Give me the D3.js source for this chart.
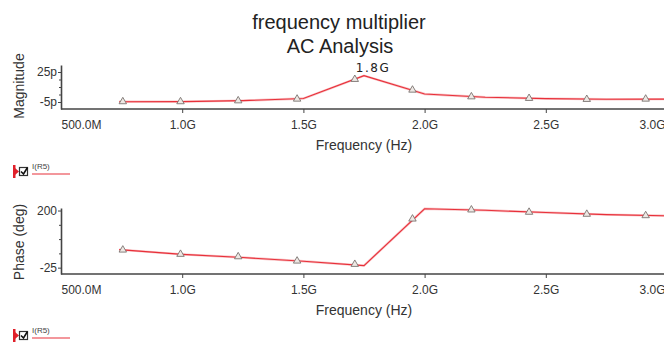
<!DOCTYPE html>
<html>
<head>
<meta charset="utf-8">
<script src="https://cdn.jsdelivr.net/npm/d3@7"></script>
<style>
  body { margin: 0; background: #fff; }
  svg { display: block; font-family: "Liberation Sans", Arial, sans-serif; }
  .axis path, .axis line { stroke: #444; }
  .axis text { fill: #333; font-size: 12px; font-family: "Liberation Sans", Arial, sans-serif; }
</style>
</head>
<body>
<svg id="chart" width="664" height="345"></svg>
<script>
// x ticks (GHz) and their labels
const freqTicks = [0.5, 1.0, 1.5, 2.0, 2.5, 3.0];
const freqLabels = ["500.0M", "1.0G", "1.5G", "2.0G", "2.5G", "3.0G"];

// magnitude curve (GHz, pA)
const magFreq = [0.74, 1.0, 1.25, 1.5, 1.75, 2.0, 2.25, 2.5, 2.75, 3.0, 3.1];
const magVal = [-4.7, -4.6, -3.6, -1.5, 21.3, 3.0, -0.2, -1.6, -2.3, -2.1, -2.2];
const magMarkFreq = [0.755, 0.993, 1.231, 1.474, 1.712, 1.95, 2.193, 2.431, 2.669, 2.912];
const magMarkVal = [-4.6, -4.6, -3.7, -2.0, 17.7, 7.0, 0.3, -1.3, -2.3, -2.0];
const magTicks = [25, -5];
const magTickLabels = ["25p", "-5p"];
const peakFreq = 1.75, peakVal = 21.3, peakLabel = "1.8G";

// phase curve (GHz, deg)
const phFreq = [0.74, 1.0, 1.25, 1.5, 1.75, 2.0, 2.25, 2.5, 2.75, 3.0, 3.1];
const phVal = [46, 27.5, 15, 0, -17, 207, 201, 192, 184, 179.5, 178];
const phMarkFreq = [0.755, 0.993, 1.231, 1.474, 1.712, 1.95, 2.193, 2.431, 2.669, 2.912];
const phMarkVal = [44.8, 28, 18.4, 1.4, -11.6, 167, 202.8, 193.7, 185.8, 180.3];
const phTicks = [200, -25];
const phTickLabels = ["200", "-25"];

const svg = d3.select("#chart");
const red = "#e8303a";

const x = d3.scaleLinear().domain([0.5, 3.0]).range([61, 667]);

function panel(opts) {
  const y = d3.scaleLinear().domain(opts.domain).range(opts.range);
  const g = svg.append("g");
  const bottom = opts.range[0];

  // x axis
  const xa = g.append("g").attr("class", "axis")
    .attr("transform", `translate(0,${bottom})`)
    .call(d3.axisBottom(x).tickValues(freqTicks)
      .tickFormat((d, i) => freqLabels[i]).tickSize(4).tickSizeOuter(0));
  xa.select(".domain").attr("stroke-width", 1.6).attr("d", `M61,0H664`);
  xa.selectAll("text").attr("dy", "0.9em").attr("y", 9);
  const n = freqTicks.length;
  xa.selectAll(".tick").filter((d, i) => i === 0).select("text").attr("text-anchor", "start");
  xa.selectAll(".tick").filter((d, i) => i === 0).select("line").remove();
  // last label pulled inside the plot edge, as the grapher does
  xa.selectAll(".tick").filter((d, i) => i === n - 1).select("text")
    .attr("text-anchor", "end").attr("x", -2);

  // y axis: major + minor ticks
  const [hi, lo] = opts.ticks;
  const minor = d3.range(1, 4).map(k => hi - (hi - lo) * k / 4);
  g.append("g").attr("class", "axis")
    .attr("transform", "translate(61,0)")
    .call(d3.axisLeft(y).tickValues(minor).tickFormat("").tickSize(2).tickSizeOuter(0))
    .select(".domain").remove();
  const ya = g.append("g").attr("class", "axis")
    .attr("transform", "translate(61,0)")
    .call(d3.axisLeft(y).tickValues(opts.ticks)
      .tickFormat((d, i) => opts.tickLabels[i]).tickSize(3).tickSizeOuter(0));
  ya.select(".domain").attr("stroke-width", 1.6);
  ya.selectAll("text").attr("x", -4);

  // axis titles
  g.append("text")
    .attr("transform", `translate(${opts.ylabX},${opts.ylabY}) rotate(-90)`)
    .attr("text-anchor", "middle").attr("font-size", 14).attr("fill", "#333")
    .text(opts.ylabel);
  g.append("text")
    .attr("x", 364).attr("y", bottom + opts.xlabDy)
    .attr("text-anchor", "middle").attr("font-size", 14).attr("fill", "#333")
    .text("Frequency (Hz)");

  // curve
  const pts = opts.freq.map((f, i) => [f, opts.val[i]]);
  const line = d3.line().x(d => x(d[0])).y(d => y(d[1]));
  g.append("path").datum(pts).attr("d", line)
    .attr("fill", "none").attr("stroke", "#f8c4c6").attr("stroke-width", 2.4);
  g.append("path").datum(pts).attr("d", line)
    .attr("fill", "none").attr("stroke", red).attr("stroke-width", 1.1);

  // markers
  g.selectAll(".mk").data(opts.markFreq).join("path")
    .attr("class", "mk")
    .attr("transform", (f, i) => `translate(${x(f)},${y(opts.markVal[i])})`)
    .attr("d", d3.symbol(d3.symbolTriangle, 24))
    .attr("fill", "#eee8e4").attr("stroke", "#7a7470").attr("stroke-width", 0.9);

  // legend
  const ly = opts.legendY;
  const lg = g.append("g").attr("transform", `translate(0,${ly})`);
  lg.append("rect").attr("x", 13).attr("y", -6).attr("width", 2.5).attr("height", 13).attr("fill", "#e0202a");
  lg.append("path").attr("d", "M15,-3L19,0.5L15,4Z").attr("fill", "#e0202a");
  lg.append("rect").attr("x", 19.5).attr("y", -3.5).attr("width", 8).attr("height", 8)
    .attr("fill", "#fff").attr("stroke", "#333").attr("stroke-width", 1.2);
  lg.append("path").attr("d", "M21,0.5L23.5,3L27.5,-3.5").attr("fill", "none")
    .attr("stroke", "#111").attr("stroke-width", 1.6);
  lg.append("text").attr("x", 32).attr("y", -2).attr("font-size", 8).attr("fill", "#444").text("I(R5)");
  lg.append("line").attr("x1", 32).attr("x2", 70).attr("y1", 3).attr("y2", 3)
    .attr("stroke", red).attr("stroke-width", 1.2);

  return { y, g };
}

const magPanel = panel({
  domain: [-12, 32], range: [109, 65],
  ticks: magTicks, tickLabels: magTickLabels,
  ylabel: "Magnitude", ylabX: 24, ylabY: 86, xlabDy: 41,
  freq: magFreq, val: magVal, markFreq: magMarkFreq, markVal: magMarkVal,
  legendY: 171
});

panel({
  domain: [-50, 210], range: [274, 208],
  ticks: phTicks, tickLabels: phTickLabels,
  ylabel: "Phase (deg)", ylabX: 24, ylabY: 242, xlabDy: 41,
  freq: phFreq, val: phVal, markFreq: phMarkFreq, markVal: phMarkVal,
  legendY: 335
});

// peak annotation
svg.append("text")
  .attr("x", x(peakFreq) + 9).attr("y", magPanel.y(peakVal) - 4)
  .attr("text-anchor", "middle").attr("font-family", "DejaVu Sans")
  .attr("font-size", 12).attr("letter-spacing", 1.5).attr("fill", "#222")
  .text(peakLabel);

// title
svg.append("text").attr("x", 339).attr("y", 29).attr("text-anchor", "middle")
  .attr("font-size", 20).attr("fill", "#222").text("frequency multiplier");
svg.append("text").attr("x", 340).attr("y", 53).attr("text-anchor", "middle")
  .attr("font-size", 20).attr("fill", "#222").text("AC Analysis");
</script>
</body>
</html>
